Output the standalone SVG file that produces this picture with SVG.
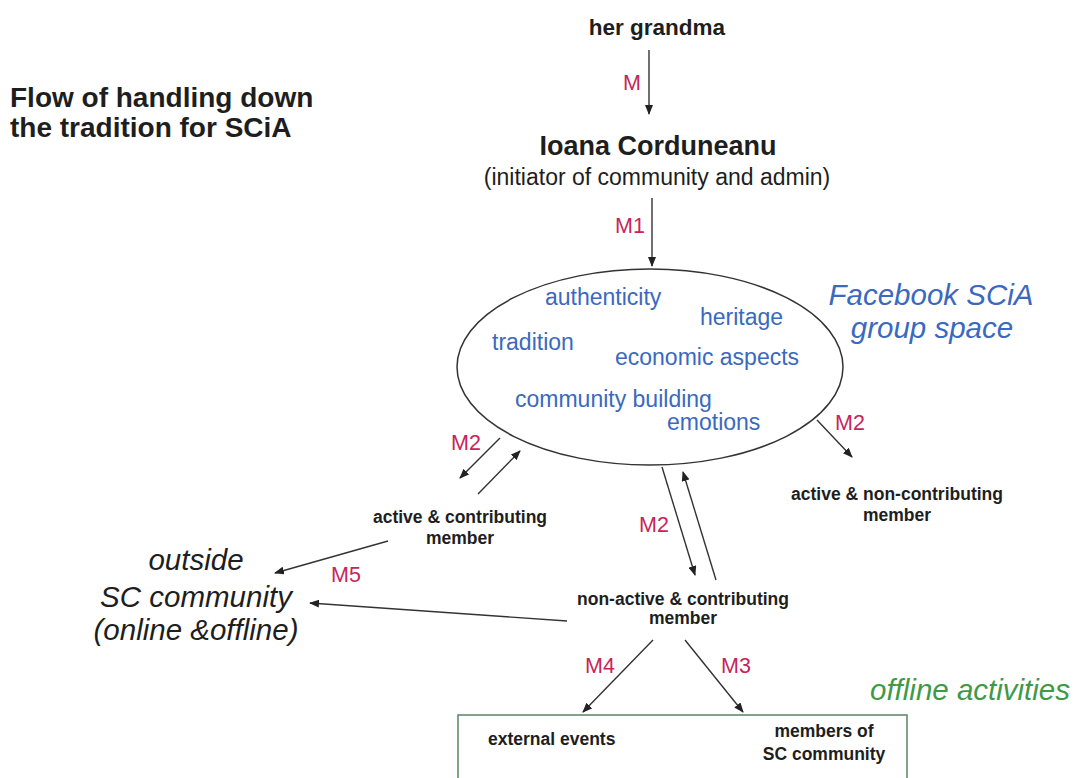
<svg xmlns="http://www.w3.org/2000/svg" width="1079" height="778" viewBox="0 0 1079 778">
<style>
text{font-family:"Liberation Sans",Arial,sans-serif;fill:#1e1e1e}
.title{font-size:28px;font-weight:bold}
.node{font-size:17.5px;font-weight:bold}
.lab{font-size:21.5px;fill:#c8245a}
.kw{font-size:23px;fill:#3a69bf}
.big{font-size:29.5px;font-style:italic}
.blue{fill:#3a69bf}
.green{fill:#3f9a45}
.c{stroke:#333;stroke-width:1.4;fill:none;marker-end:url(#ah)}
</style>
<defs>
<marker id="ah" markerUnits="userSpaceOnUse" markerWidth="10" markerHeight="8" refX="9" refY="4" orient="auto">
<path d="M0,0 L10,4 L0,8 z" fill="#222"/>
</marker>
</defs>
<rect width="1079" height="778" fill="#fff"/>
<g id="title">
<text class="title" x="10" y="107">Flow of handling down</text>
<text class="title" x="10" y="137">the tradition for SCiA</text>
</g>
<g id="grandma"><text x="657" y="35" text-anchor="middle" style="font-size:22.5px;font-weight:bold">her grandma</text></g>
<g id="ioana">
<text x="658" y="155" text-anchor="middle" style="font-size:27px;font-weight:bold">Ioana Corduneanu</text>
<text x="657" y="185" text-anchor="middle" style="font-size:23px">(initiator of community and admin)</text>
</g>
<g id="facebook">
<ellipse cx="650" cy="367" rx="193" ry="98" fill="none" stroke="#333" stroke-width="1.5"/>
<text class="kw" x="545" y="305">authenticity</text>
<text class="kw" x="700" y="325">heritage</text>
<text class="kw" x="492" y="350">tradition</text>
<text class="kw" x="615" y="365">economic aspects</text>
<text class="kw" x="515" y="407">community building</text>
<text class="kw" x="667" y="430">emotions</text>
<text class="big blue" x="931" y="305" text-anchor="middle">Facebook SCiA</text>
<text class="big blue" x="932" y="338" text-anchor="middle">group space</text>
</g>
<g id="active-contributing">
<text class="node" x="460" y="523" text-anchor="middle">active &amp; contributing</text>
<text class="node" x="460" y="544" text-anchor="middle">member</text>
</g>
<g id="active-noncontributing">
<text class="node" x="897" y="500" text-anchor="middle">active &amp; non-contributing</text>
<text class="node" x="897" y="521" text-anchor="middle">member</text>
</g>
<g id="nonactive-contributing">
<text class="node" x="683" y="605" text-anchor="middle">non-active &amp; contributing</text>
<text class="node" x="683" y="624" text-anchor="middle">member</text>
</g>
<g id="outside">
<text class="big" x="196" y="570" text-anchor="middle">outside</text>
<text class="big" x="196" y="607" text-anchor="middle">SC community</text>
<text class="big" x="196" y="640" text-anchor="middle">(online &amp;offline)</text>
</g>
<g id="offline">
<rect x="458" y="715" width="449" height="70" fill="none" stroke="#5b8468" stroke-width="1.5"/>
<text class="big green" x="970" y="700" text-anchor="middle">offline activities</text>
<text class="node" x="488" y="745">external events</text>
<text class="node" x="824" y="737" text-anchor="middle">members of</text>
<text class="node" x="824" y="760" text-anchor="middle">SC community</text>
</g>
<g id="connectors">
<line class="c" x1="649" y1="50" x2="649" y2="114"/>
<line class="c" x1="652" y1="198" x2="652" y2="266"/>
<line class="c" x1="500" y1="438" x2="460" y2="478"/>
<line class="c" x1="478" y1="494" x2="520" y2="451"/>
<line class="c" x1="817" y1="420" x2="852" y2="457"/>
<line class="c" x1="662" y1="467" x2="695" y2="575"/>
<line class="c" x1="716" y1="580" x2="683" y2="472"/>
<line class="c" x1="388" y1="541" x2="275" y2="573"/>
<line class="c" x1="567" y1="621" x2="310" y2="603"/>
<line class="c" x1="653" y1="640" x2="583" y2="712"/>
<line class="c" x1="685" y1="640" x2="743" y2="712"/>
<text class="lab" x="623" y="90">M</text>
<text class="lab" x="615" y="233">M1</text>
<text class="lab" x="451" y="450">M2</text>
<text class="lab" x="835" y="430">M2</text>
<text class="lab" x="639" y="532">M2</text>
<text class="lab" x="331" y="582">M5</text>
<text class="lab" x="585" y="673">M4</text>
<text class="lab" x="721" y="673">M3</text>
</g>
</svg>
